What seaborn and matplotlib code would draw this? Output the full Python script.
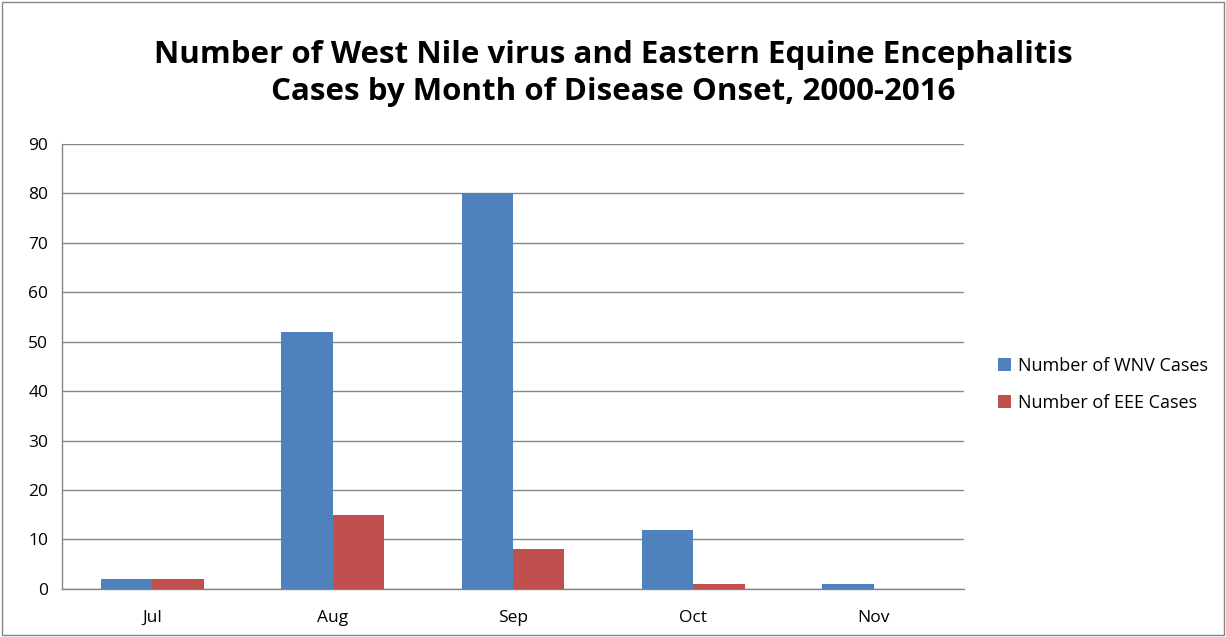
import numpy as np
import pandas as pd
import matplotlib
matplotlib.use("Agg")
import matplotlib.pyplot as plt
import seaborn as sns
from matplotlib.patches import Rectangle

months = ["Jul", "Aug", "Sep", "Oct", "Nov"]
wnv_cases = [2, 52, 80, 12, 1]
eee_cases = [2, 15, 8, 1, 0]
series_names = ["Number of WNV Cases", "Number of EEE Cases"]

df = pd.DataFrame({
    "month": months * 2,
    "cases": wnv_cases + eee_cases,
    "series": [series_names[0]] * len(months) + [series_names[1]] * len(months),
})

sns.set_style("white")
plt.rcParams["font.family"] = ["Open Sans", "DejaVu Sans"]
plt.rcParams["text.color"] = "black"

fig = plt.figure(figsize=(12.26, 6.37), dpi=100)
ax = fig.add_axes([0.0506, 0.0754, 0.7357, 0.699])

sns.barplot(data=df, x="month", y="cases", hue="series", order=months,
            hue_order=series_names, palette=["#4F81BD", "#C0504D"],
            width=0.57, gap=0, saturation=1, linewidth=0, ax=ax, zorder=3)

ax.set_ylim(0, 90)
ax.set_xlim(-0.5, 4.5)
ax.set_yticks(range(0, 91, 10))
ax.yaxis.grid(True, color="#868686", linewidth=1, zorder=0)
ax.set_axisbelow(True)
for s in ["top", "right"]:
    ax.spines[s].set_visible(False)
for s in ["left", "bottom"]:
    ax.spines[s].set_color("#868686")
    ax.spines[s].set_linewidth(1)
ax.set_xlabel("")
ax.set_ylabel("")
ax.tick_params(axis="x", length=0, labelsize=12.5, pad=15, colors="black")
ax.tick_params(axis="y", length=0, labelsize=12.5, pad=10, colors="black")
ax.set_xticks(np.arange(-0.5, 5, 1), minor=True)
ax.tick_params(axis="x", which="minor", length=6, color="#868686", direction="out")

ax.legend(loc="center left", bbox_to_anchor=(1.02, 0.46), frameon=False,
          fontsize=13, handlelength=0.7, handleheight=0.7, handletextpad=0.4,
          labelspacing=1.05)

fig.text(0.5, 0.885, "Number of West Nile virus and Eastern Equine Encephalitis\n"
         "Cases by Month of Disease Onset, 2000-2016",
         ha="center", va="center", fontsize=22.5, fontweight="bold",
         linespacing=1.3, color="black")

fig.patches.append(Rectangle((0.002, 0.003), 0.996, 0.994, transform=fig.transFigure,
                             fill=False, edgecolor="#868686", linewidth=1))

fig.savefig("out.png", dpi=100)
